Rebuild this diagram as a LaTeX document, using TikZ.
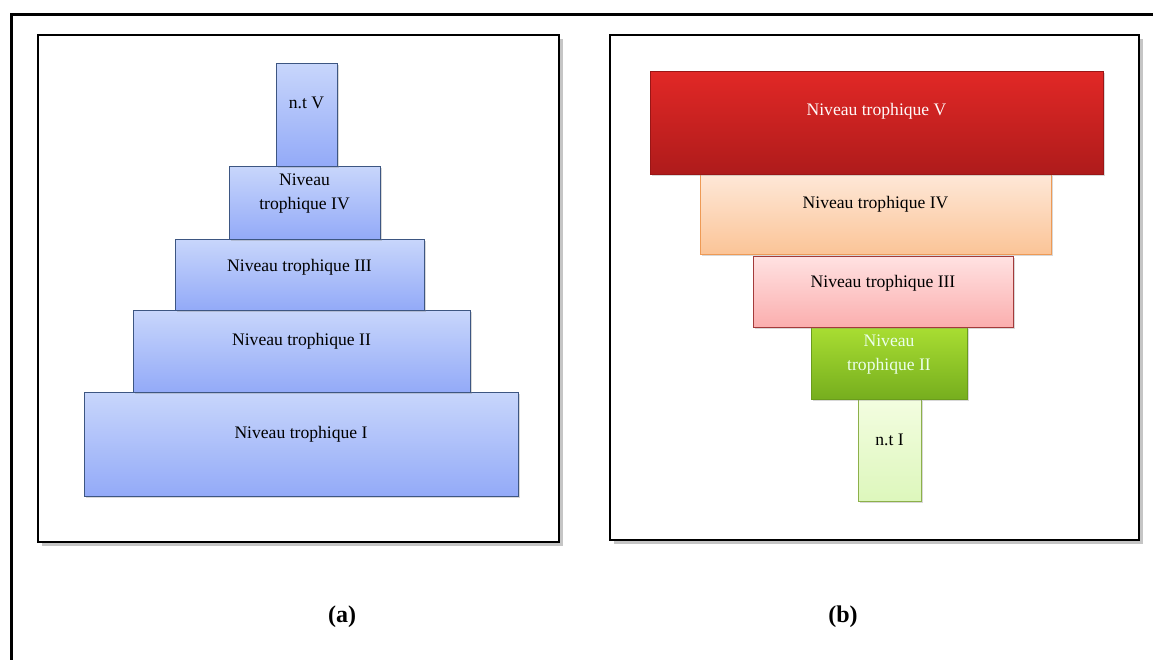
\documentclass[tikz,border=0pt]{standalone}
\usepackage{fontspec}
\setmainfont{Liberation Serif}
\usetikzlibrary{shadows}

\definecolor{bluetop}{HTML}{C8D6FB}
\definecolor{bluebot}{HTML}{93AAF8}
\definecolor{blueline}{HTML}{3D5682}
\definecolor{redtop}{HTML}{E22826}
\definecolor{redbot}{HTML}{AE1B1B}
\definecolor{redline}{HTML}{9A1616}
\definecolor{peachtop}{HTML}{FEE8D8}
\definecolor{peachbot}{HTML}{FBC497}
\definecolor{peachline}{HTML}{EE9A55}
\definecolor{pinktop}{HTML}{FFE2E2}
\definecolor{pinkbot}{HTML}{FBAEAE}
\definecolor{pinkline}{HTML}{A33A3A}
\definecolor{greentop}{HTML}{A9DE32}
\definecolor{greenbot}{HTML}{76AE1E}
\definecolor{greenline}{HTML}{6A9C1C}
\definecolor{paletop}{HTML}{F3FDE0}
\definecolor{palebot}{HTML}{DDF7BC}
\definecolor{paleline}{HTML}{8DB04A}

\tikzset{
	panel/.style={draw=black, line width=2.8pt, fill=white,
		drop shadow={shadow xshift=4pt, shadow yshift=-4pt, opacity=0.45}},
	level/.style={line width=0.8pt,
		drop shadow={shadow xshift=2pt, shadow yshift=-2pt, opacity=0.3}},
	lbl/.style={font=\fontsize{17.6}{24}\selectfont, align=center, inner sep=0pt},
	caption/.style={font=\fontsize{24}{28}\selectfont\bfseries, inner sep=0pt}
}

\begin{document}
\begin{tikzpicture}[x=1pt, y=-1pt]
	\useasboundingbox[fill=white] (0,0) rectangle (1153,659);
	\clip (0,0) rectangle (1153,659);
	
	% outer frame, cut by the page on the right and at the bottom
	\draw[line width=3.2pt] (11.5,14.5) rectangle (1170,680);
	
	% (a) pyramid
	\draw[panel] (38,35) rectangle (559,542);
	\foreach \n/\l/\t/\r/\b/\ty/\txt in {a1/84/392/518/496/434/{Niveau trophique I},
		a2/133/310/470/392/341/{Niveau trophique II},
		a3/175/239/424/310/267/{Niveau trophique III},
		a4/229/166/380/239/193.5/{Niveau\\trophique IV},
		a5/276/63/337/166/103/{n.t V}}
	{
		\draw[level, draw=blueline, top color=bluetop, bottom color=bluebot] (\l,\t) rectangle (\r,\b);
		\node[lbl] (\n) at ({(\l+\r)/2},\ty) {\txt};
	}
	
	% (b) inverted pyramid
	\draw[panel] (610,35) rectangle (1139,540);
	\foreach \n/\l/\t/\r/\b/\ty/\c/\tc/\txt in {b1/858/399/921/501/440/pale/black/{n.t I},
		b2/811/327/967/399/354.5/green/white!92!green/{Niveau\\trophique II},
		b3/753/256/1013/327/283/pink/black/{Niveau trophique III},
		b4/700/174/1051/254/204/peach/black/{Niveau trophique IV},
		b5/650/71/1103/174/111/red/white!90!pink/{Niveau trophique V}}
	{
		\draw[level, draw=\c line, top color=\c top, bottom color=\c bot] (\l,\t) rectangle (\r,\b);
		\node[lbl, text=\tc] (\n) at ({(\l+\r)/2},\ty) {\txt};
	}
	
	\node[caption] (capa) at (342,617) {(a)};
	\node[caption] (capb) at (843,617) {(b)};
\end{tikzpicture}
\end{document}
